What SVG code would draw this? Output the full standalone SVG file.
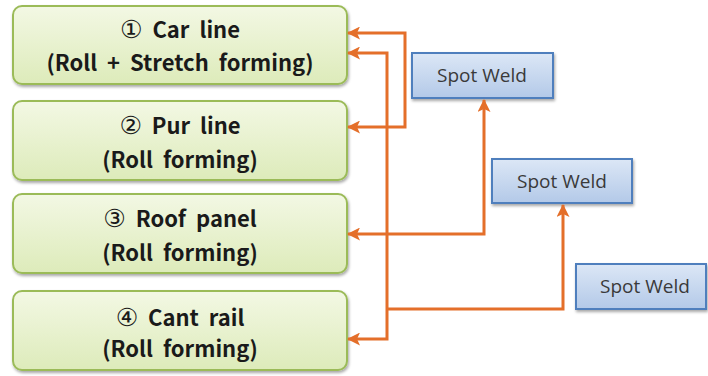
<svg xmlns="http://www.w3.org/2000/svg" width="708" height="376" viewBox="0 0 708 376">
<defs>
<linearGradient id="gg" x1="0" y1="0" x2="0" y2="1"><stop offset="0" stop-color="#F3F8E4"/><stop offset="1" stop-color="#DDEBBA"/></linearGradient>
<linearGradient id="bg" x1="0" y1="0" x2="0" y2="1"><stop offset="0" stop-color="#DCE7F6"/><stop offset="1" stop-color="#B3C9E8"/></linearGradient>
<filter id="sh" x="-10%" y="-10%" width="120%" height="130%"><feGaussianBlur in="SourceAlpha" stdDeviation="1.5"/><feOffset dx="1" dy="2" result="b"/><feComponentTransfer><feFuncA type="linear" slope="0.35"/></feComponentTransfer><feMerge><feMergeNode/><feMergeNode in="SourceGraphic"/></feMerge></filter>
<marker id="ah" markerWidth="13" markerHeight="13" refX="12" refY="6.5" orient="auto-start-reverse" markerUnits="userSpaceOnUse"><path d="M0,0 L13,6.5 L0,13 L3,6.5 Z" fill="#E46F2A"/></marker>
</defs>
<style>
.g{fill:url(#gg);stroke:#9BBB59;stroke-width:2;filter:url(#sh)}
.b{fill:url(#bg);stroke:#4F7FBD;stroke-width:2;filter:url(#sh)}
.t{font-family:"Noto Sans CJK KR","DejaVu Sans",sans-serif;font-weight:bold;font-size:22px;word-spacing:5px;fill:#1A1A1A;text-anchor:middle}
.n{font-family:"DejaVu Sans",sans-serif;font-weight:normal;font-size:25px}
.s{font-family:"Open Sans","Liberation Sans",sans-serif;font-size:19px;fill:#3A3A3A;text-anchor:middle}
.c{fill:none;stroke:#E46F2A;stroke-width:3}
</style>
<g id="n1"><rect class="g" x="13" y="6" width="334" height="78" rx="9"/><text class="t" x="180" y="38"><tspan class="n">①</tspan> Car line</text><text class="t" x="180" y="71">(Roll + Stretch forming)</text></g>
<g id="n2"><rect class="g" x="13" y="101" width="334" height="79" rx="9"/><text class="t" x="180" y="134"><tspan class="n">②</tspan> Pur line</text><text class="t" x="180" y="168">(Roll forming)</text></g>
<g id="n3"><rect class="g" x="13" y="194" width="334" height="79" rx="9"/><text class="t" x="180" y="227"><tspan class="n">③</tspan> Roof panel</text><text class="t" x="180" y="261">(Roll forming)</text></g>
<g id="n4"><rect class="g" x="13" y="291" width="334" height="79" rx="9"/><text class="t" x="180" y="326"><tspan class="n">④</tspan> Cant rail</text><text class="t" x="180" y="357">(Roll forming)</text></g>
<g id="sw1"><rect class="b" x="412" y="53" width="141" height="45"/><text class="s" x="482" y="82">Spot Weld</text></g>
<g id="sw2"><rect class="b" x="492" y="159" width="140" height="44"/><text class="s" x="562" y="188">Spot Weld</text></g>
<g id="sw3"><rect class="b" x="576" y="264" width="130" height="45"/><text class="s" x="645" y="293">Spot Weld</text></g>
<g id="connectors">
<path class="c" d="M348,33 H405 V127 H348" marker-start="url(#ah)" marker-end="url(#ah)"/>
<path class="c" d="M348,53 H387 V339 H348" marker-start="url(#ah)" marker-end="url(#ah)"/>
<path class="c" d="M387,309 H563 V205" marker-end="url(#ah)"/>
<path class="c" d="M348,234 H484 V100" marker-start="url(#ah)" marker-end="url(#ah)"/>
</g>
</svg>
